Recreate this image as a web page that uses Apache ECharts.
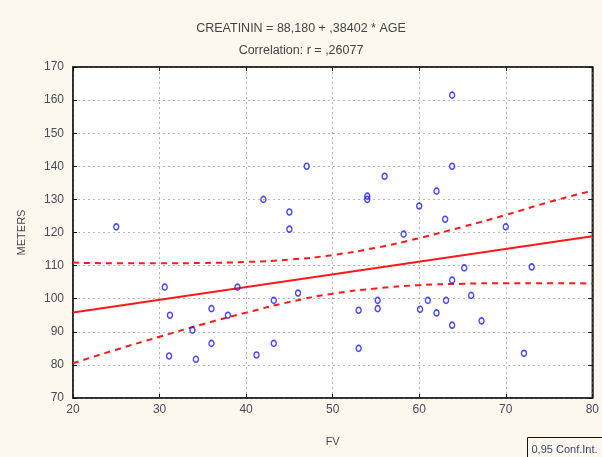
<!DOCTYPE html>
<html>
<head>
<meta charset="utf-8">
<script src="https://cdn.jsdelivr.net/npm/echarts@6/dist/echarts.min.js"></script>
<style>
  html, body { margin: 0; padding: 0; background: #fdf8ee; }
  #chart { width: 602px; height: 457px; }
</style>
</head>
<body>
<div id="chart"></div>
<script>
// Observations: FV (x) and METERS (y)
const fv = [25, 30.6, 31.2, 31.1, 33.8, 34.2, 36, 36, 37.9, 39,
            41.2, 42, 43.2, 43.2, 45, 45, 46, 47, 53, 53,
            54, 54, 55.2, 55.2, 56, 58.2, 60, 60.1, 61, 62,
            62, 63, 63.1, 63.8, 63.8, 63.8, 63.8, 65.2, 66, 67.2,
            70, 72.1, 73];
const meters = [121.7, 103.5, 95, 82.7, 90.5, 81.7, 97, 86.5, 95, 103.5,
                83, 130, 99.5, 86.5, 126.2, 121, 101.7, 140, 96.5, 85,
                131, 130, 99.5, 97, 137, 119.5, 128, 96.8, 99.5, 132.5,
                95.7, 124, 99.5, 161.5, 140, 105.6, 92, 109.3, 101, 93.3,
                121.7, 83.5, 109.6];

// Fitted line: CREATININ = 88,180 + ,38402 * AGE
const intercept = 88.180;
const slope = 0.38402;
const fitRange = [20, 80];

// 0,95 confidence band
const bandX = [20, 25, 30, 35, 40, 45, 50, 55, 60, 65, 70, 75, 80];
const bandUpper = [110.9, 110.7, 110.7, 110.8, 111.1, 111.8, 113.2, 115.4, 118.3, 121.7, 125.3, 129.2, 132.6];
const bandLower = [80.5, 84.6, 88.5, 92.3, 95.8, 99.0, 101.5, 103.1, 104.1, 104.5, 104.7, 104.7, 104.6];

// Axis ticks
const xTicks = { min: 20, max: 80, interval: 10 };
const yTicks = { min: 70, max: 170, interval: 10 };

const titleLine1 = 'CREATININ = 88,180 + ,38402 * AGE';
const titleLine2 = 'Correlation: r = ,26077';
const xName = 'FV';
const yName = 'METERS';
const legendText = '0,95 Conf.Int.';

const pts = fv.map((x, i) => [x, meters[i]]);
const fitLine = fitRange.map(x => [x, intercept + slope * x]);
const upper = bandX.map((x, i) => [x, bandUpper[i]]);
const lower = bandX.map((x, i) => [x, bandLower[i]]);

const font = "'Liberation Sans', Arial, sans-serif";
const narrow = "'Liberation Sans Narrow', 'Liberation Sans', Arial, sans-serif";
const labelColor = '#4a4a58';
const frame = { color: '#222', width: 1.5 };
const innerTick = { show: true, inside: true, length: 4, lineStyle: { color: '#111' } };
const gridLine = { show: true, lineStyle: { color: '#b8b8b8', width: 1, type: [2, 3] } };

const chart = echarts.init(document.getElementById('chart'), null, { renderer: 'canvas' });
chart.setOption({
  backgroundColor: '#fdf8ee',
  animation: false,
  title: [
    { text: titleLine1, left: 'center', top: 17,
      textStyle: { fontFamily: narrow, fontSize: 12.5, fontWeight: 'normal', color: '#444' } },
    { text: titleLine2, left: 'center', top: 39,
      textStyle: { fontFamily: narrow, fontSize: 12.5, fontWeight: 'normal', color: '#444' } }
  ],
  grid: {
    left: 73, right: 9, top: 67, bottom: 59,
    show: true, backgroundColor: '#ffffff', borderColor: '#222', borderWidth: 1.5
  },
  xAxis: [{
    type: 'value', min: xTicks.min, max: xTicks.max, interval: xTicks.interval,
    name: xName, nameLocation: 'middle', nameGap: 38,
    nameTextStyle: { fontFamily: font, fontSize: 11, color: labelColor },
    axisLine: { show: true, onZero: false, lineStyle: frame },
    axisTick: innerTick,
    axisLabel: { fontFamily: font, fontSize: 12, color: labelColor, margin: 6 },
    splitLine: gridLine
  }, {
    type: 'value', position: 'top', min: xTicks.min, max: xTicks.max, interval: xTicks.interval,
    axisLine: { show: true, onZero: false, lineStyle: frame },
    axisTick: innerTick,
    axisLabel: { show: false },
    splitLine: { show: false }
  }],
  yAxis: [{
    type: 'value', min: yTicks.min, max: yTicks.max, interval: yTicks.interval,
    name: yName, nameLocation: 'middle', nameGap: 46, nameRotate: 90,
    nameTextStyle: { fontFamily: font, fontSize: 11, color: labelColor },
    axisLine: { show: true, onZero: false, lineStyle: frame },
    axisTick: innerTick,
    axisLabel: { fontFamily: font, fontSize: 12, color: labelColor, margin: 9 },
    splitLine: gridLine
  }, {
    type: 'value', position: 'right', min: yTicks.min, max: yTicks.max, interval: yTicks.interval,
    axisLine: { show: true, onZero: false, lineStyle: frame },
    axisTick: innerTick,
    axisLabel: { show: false },
    splitLine: { show: false }
  }],
  series: [
    {
      type: 'line', data: fitLine, showSymbol: false, z: 3,
      lineStyle: { color: '#ff1a1a', width: 2 }
    },
    {
      type: 'line', data: upper, smooth: true, showSymbol: false, z: 3,
      lineStyle: { color: '#ff1a1a', width: 2, type: [6, 5] }
    },
    {
      type: 'line', data: lower, smooth: true, showSymbol: false, z: 3,
      lineStyle: { color: '#ff1a1a', width: 2, type: [6, 5] }
    },
    {
      type: 'scatter', data: pts, symbol: 'circle', symbolSize: [5, 6], z: 4,
      itemStyle: { color: 'rgba(255,255,255,0)', borderColor: '#1a1aff', borderWidth: 1.5 }
    }
  ],
  graphic: [{
    type: 'group', left: 527, top: 437,
    children: [
      { type: 'rect', shape: { x: 0, y: 0, width: 100, height: 26 },
        style: { fill: '#fdf8ee', stroke: '#111', lineWidth: 1 } },
      { type: 'text', x: 4, y: 12,
        style: { text: legendText, fontFamily: font, fontSize: 11, fill: '#3b4470', verticalAlign: 'middle' } }
    ]
  }]
});
</script>
</body>
</html>
